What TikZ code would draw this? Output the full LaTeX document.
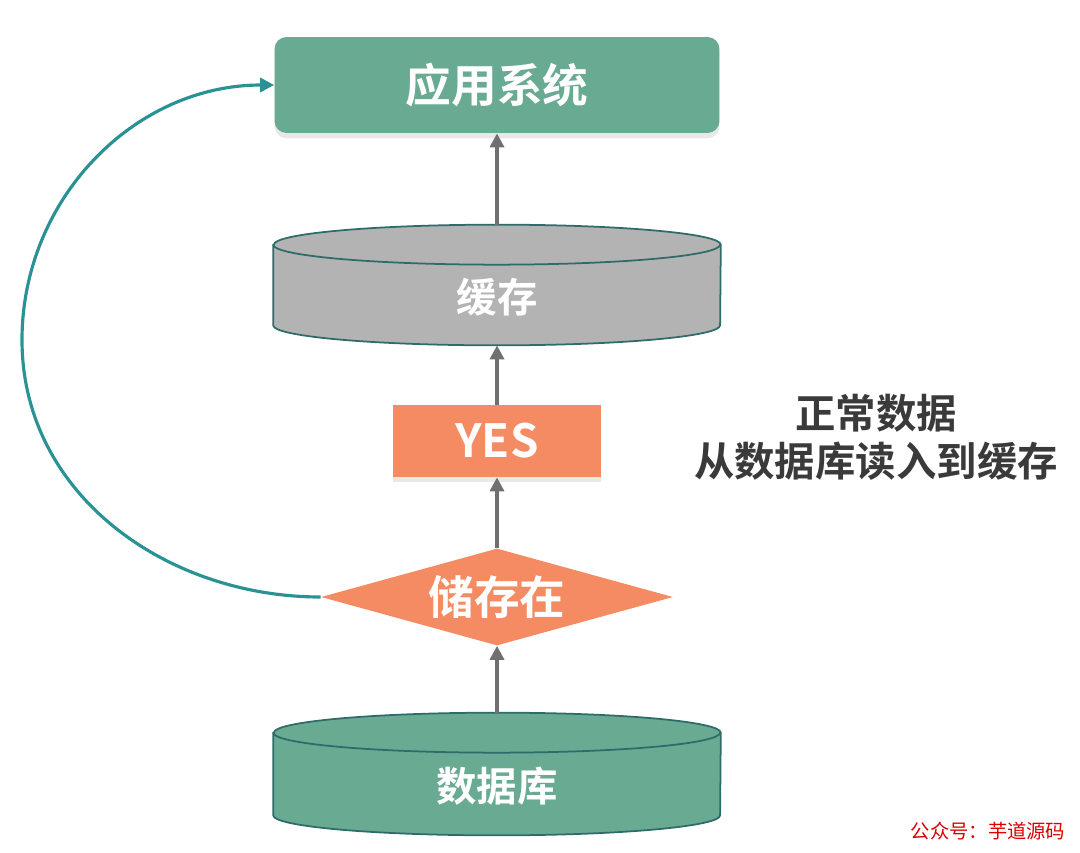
\documentclass[tikz,border=0pt]{standalone}
\usepackage{fontspec}
\newfontfamily\cjk{Noto Sans CJK SC}[BoldFont={Noto Sans CJK SC Bold}]
\usetikzlibrary{shapes.geometric,arrows.meta,backgrounds,shadows}

\definecolor{appgreen}{HTML}{69AA93}
\definecolor{diskgray}{HTML}{B3B3B3}
\definecolor{diskline}{HTML}{2E6C6A}
\definecolor{yesorange}{HTML}{F58B62}
\definecolor{loopteal}{HTML}{2A9294}
\definecolor{flowgray}{HTML}{707070}
\definecolor{notegray}{HTML}{3A3A3A}

\tikzset{
  boxtext/.style={text=white, font=\cjk\bfseries\fontsize{26}{30}\selectfont},
  softshadow/.style={drop shadow={opacity=0.18, shadow xshift=0pt, shadow yshift=-3pt}},
  appbox/.style={boxtext, rectangle, rounded corners=0.24cm, fill=appgreen,
    minimum width=8.9cm, minimum height=1.92cm, softshadow},
  yesbox/.style={boxtext, rectangle, fill=yesorange, minimum width=4.18cm,
    minimum height=1.44cm, softshadow},
  chkbox/.style={boxtext, diamond, aspect=3.67, fill=yesorange, inner sep=0pt,
    minimum width=7.04cm, minimum height=1.94cm},
  diskbox/.style={rectangle, inner sep=0pt, minimum width=8.94cm, minimum height=#1},
  disklabel/.style={boxtext, font=\cjk\bfseries\fontsize{23}{27}\selectfont, yshift=-0.24cm},
  flow/.style={->, flowgray, line width=2pt},
  backflow/.style={->, loopteal, line width=1.8pt},
  notetext/.style={text=notegray, align=center,
    font=\cjk\bfseries\fontsize{23}{27.5}\selectfont},
}

% a flat disk round the named node: side, bottom rim, top ellipse
\newcommand\drawdisk[2]{%
  \filldraw[fill=#2, draw=diskline, line width=1pt]
    ([yshift=-0.4cm]#1.north west) -- ([yshift=0.4cm]#1.south west)
    arc[start angle=180, end angle=360, x radius=4.47cm, y radius=0.4cm]
    -- ([yshift=-0.4cm]#1.north east)
    arc[start angle=0, end angle=180, x radius=4.47cm, y radius=0.4cm] -- cycle;
  \draw[diskline, line width=1pt] ([yshift=-0.4cm]#1.north west)
    arc[start angle=180, end angle=360, x radius=4.47cm, y radius=0.4cm];}

\begin{document}
\begin{tikzpicture}[x=0.02cm,y=-0.02cm,>={Triangle[length=8pt,width=8pt]}]
  \useasboundingbox (0,0) rectangle (1080,853);

  % --- the chain, from the database up to the application ---
  \node[appbox] (app) at (497,85) {应用系统};
  \node[diskbox=2.4cm, label={[disklabel]center:缓存}] (cache) at (497,285) {};
  \node[yesbox] (yes) at (497,441) {YES};
  \node[chkbox] (chk) at (497,597) {储存在};
  \node[diskbox=2.44cm, label={[disklabel]center:数据库}] (db) at (497,774) {};

  \begin{scope}[on background layer]
    \drawdisk{cache}{diskgray}
    \drawdisk{db}{appgreen}
  \end{scope}

  \foreach \a/\b in {db/chk, chk/yes, yes/cache, cache/app}
    \draw[flow] (\a.north) -- (\b.south);

  % back to the application when the data is there
  \coordinate (loopleft) at (22,340);
  \draw[backflow] (chk.west) to[out=180,in=-90] (loopleft)
    to[out=90,in=180] (app.west);

  % --- side note and mark ---
  \node[notetext] (note) at (876,437) {正常数据\\从数据库读入到缓存};
  \node[font=\cjk\fontsize{11}{13}\selectfont, text=red!85!black] (mark)
    at (988,831) {公众号：芋道源码};
\end{tikzpicture}
\end{document}
